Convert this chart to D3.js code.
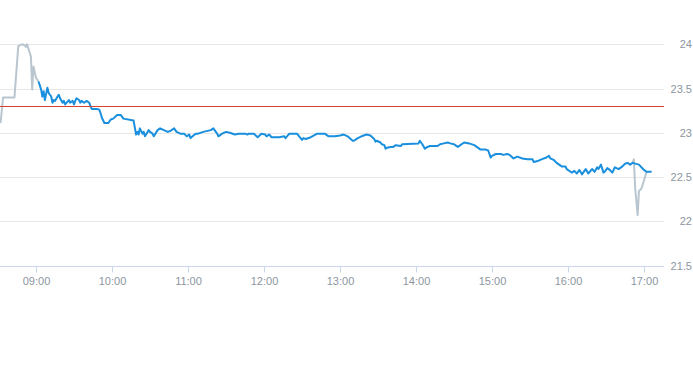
<!DOCTYPE html>
<html>
<head>
<meta charset="utf-8">
<script src="https://cdn.jsdelivr.net/npm/d3@7"></script>
<style>
  body { margin: 0; background: #fff; }
  svg text { font-family: "Liberation Sans", Arial, sans-serif; }
</style>
</head>
<body>
<div id="chart"></div>
<script>
// price before the open (grey)
const preMarket = [
  ["08:32", 23.11], ["08:34", 23.40], ["08:43", 23.40], ["08:46", 23.98],
  ["08:49", 24.00], ["08:51", 23.99], ["08:52", 23.97], ["08:53", 24.00],
  ["08:56", 23.86], ["08:57", 23.49], ["08:58", 23.75], ["09:00", 23.62],
  ["09:02", 23.58]
]

// regular session (blue)
const session = [
  ["09:02", 23.58], ["09:04", 23.49], ["09:05", 23.41], ["09:06", 23.47], ["09:07", 23.37],
  ["09:09", 23.51], ["09:10", 23.45], ["09:12", 23.41], ["09:13", 23.34], ["09:14", 23.37],
  ["09:15", 23.36], ["09:17", 23.41], ["09:18", 23.43], ["09:19", 23.39], ["09:21", 23.34],
  ["09:22", 23.36], ["09:23", 23.32], ["09:26", 23.37], ["09:27", 23.34], ["09:29", 23.36],
  ["09:30", 23.32], ["09:31", 23.36], ["09:32", 23.39], ["09:34", 23.37], ["09:35", 23.34],
  ["09:36", 23.36], ["09:38", 23.34], ["09:40", 23.36], ["09:42", 23.34], ["09:43", 23.30],
  ["09:44", 23.27], ["09:48", 23.27], ["09:50", 23.26], ["09:51", 23.22], ["09:52", 23.17],
  ["09:54", 23.11], ["09:56", 23.11], ["09:57", 23.11], ["09:59", 23.15], ["10:01", 23.16],
  ["10:04", 23.20], ["10:07", 23.20], ["10:09", 23.16], ["10:17", 23.14], ["10:19", 22.98],
  ["10:20", 23.01], ["10:21", 22.98], ["10:22", 23.05], ["10:24", 22.99], ["10:25", 23.01],
  ["10:26", 22.96], ["10:29", 23.03], ["10:30", 23.01], ["10:32", 22.99], ["10:33", 22.96],
  ["10:36", 23.03], ["10:38", 23.05], ["10:41", 23.03], ["10:44", 23.01], ["10:46", 23.02],
  ["10:49", 23.05], ["10:51", 23.01], ["10:54", 22.99], ["10:57", 22.99], ["10:59", 22.96],
  ["11:01", 22.98], ["11:02", 22.94], ["11:06", 22.99], ["11:08", 22.99], ["11:12", 23.01],
  ["11:18", 23.03], ["11:20", 23.05], ["11:23", 22.99], ["11:24", 22.96], ["11:27", 22.99],
  ["11:30", 23.01], ["11:33", 23.00], ["11:37", 22.98], ["11:40", 22.99], ["11:45", 22.99],
  ["11:47", 22.98], ["11:48", 22.99], ["11:52", 22.99], ["11:55", 22.95], ["11:58", 22.99],
  ["12:01", 22.98], ["12:02", 22.96], ["12:04", 22.98], ["12:06", 22.95], ["12:12", 22.95],
  ["12:16", 22.96], ["12:17", 22.94], ["12:20", 22.99], ["12:25", 22.99], ["12:26", 22.99],
  ["12:30", 22.92], ["12:31", 22.94], ["12:33", 22.93], ["12:37", 22.95], ["12:42", 22.99],
  ["12:48", 22.99], ["12:51", 22.96], ["12:56", 22.96], ["13:00", 22.97], ["13:03", 22.98],
  ["13:06", 22.96], ["13:10", 22.91], ["13:11", 22.91], ["13:14", 22.94], ["13:17", 22.96],
  ["13:21", 22.98], ["13:24", 22.97], ["13:27", 22.93], ["13:28", 22.90], ["13:29", 22.91],
  ["13:32", 22.89], ["13:33", 22.87], ["13:35", 22.86], ["13:36", 22.82], ["13:37", 22.83],
  ["13:40", 22.84], ["13:42", 22.84], ["13:44", 22.86], ["13:48", 22.85], ["13:49", 22.87],
  ["14:02", 22.88], ["14:03", 22.91], ["14:05", 22.87], ["14:07", 22.82], ["14:09", 22.84],
  ["14:11", 22.85], ["14:17", 22.85], ["14:19", 22.87], ["14:22", 22.88], ["14:25", 22.89],
  ["14:27", 22.88], ["14:30", 22.87], ["14:31", 22.86], ["14:33", 22.84], ["14:35", 22.86],
  ["14:38", 22.89], ["14:42", 22.88], ["14:46", 22.86], ["14:48", 22.84], ["14:51", 22.81],
  ["14:55", 22.81], ["14:57", 22.80], ["14:59", 22.72], ["15:00", 22.74], ["15:03", 22.76],
  ["15:07", 22.76], ["15:09", 22.75], ["15:12", 22.76], ["15:14", 22.75], ["15:17", 22.71],
  ["15:20", 22.73], ["15:24", 22.71], ["15:28", 22.70], ["15:32", 22.70], ["15:33", 22.67],
  ["15:36", 22.68], ["15:39", 22.70], ["15:43", 22.72], ["15:45", 22.74], ["15:46", 22.71],
  ["15:49", 22.69], ["15:51", 22.66], ["15:55", 22.62], ["15:58", 22.62], ["15:59", 22.59],
  ["16:02", 22.56], ["16:03", 22.55], ["16:05", 22.57], ["16:07", 22.54], ["16:09", 22.58],
  ["16:11", 22.53], ["16:14", 22.59], ["16:16", 22.54], ["16:19", 22.59], ["16:21", 22.56],
  ["16:23", 22.61], ["16:24", 22.59], ["16:26", 22.64], ["16:28", 22.55], ["16:29", 22.56],
  ["16:31", 22.60], ["16:33", 22.58], ["16:35", 22.55], ["16:37", 22.61], ["16:40", 22.59],
  ["16:43", 22.62], ["16:45", 22.65], ["16:47", 22.66], ["16:49", 22.64], ["16:51", 22.66],
  ["16:56", 22.64], ["17:00", 22.58], ["17:02", 22.56], ["17:06", 22.56]
]

// after the close (grey)
const postMarket = [
  ["16:51", 22.66], ["16:52", 22.70], ["16:53", 22.38], ["16:55", 22.07],
  ["16:56", 22.34], ["16:58", 22.37], ["17:00", 22.46], ["17:02", 22.56]
]

const previousClose = 23.30
const yTicks = [21.5, 22, 22.5, 23, 23.5, 24]

const width = 693
const height = 365
const plotRight = 664
const parse = d3.timeParse("%H:%M")

const x = d3.scaleTime()
  .domain([parse("09:00"), parse("17:00")])
  .range([36, 644])

const y = d3.scaleLinear()
  .domain([21.5, 24])
  .range([265.5, 44.3])

const svg = d3.select("#chart")
  .append("svg")
  .attr("width", width)
  .attr("height", height)

// grid
svg.append("g")
  .attr("class", "grid")
  .selectAll("line")
  .data(yTicks)
  .join("line")
  .attr("x1", 0)
  .attr("x2", plotRight)
  .attr("y1", d => Math.round(y(d)) + 0.5)
  .attr("y2", d => Math.round(y(d)) + 0.5)
  .attr("stroke", "#e6e6e6")

// x axis
const xAxis = d3.axisBottom(x)
  .ticks(d3.timeHour.every(1))
  .tickFormat(d3.timeFormat("%H:%M"))
  .tickSize(6)
  .tickPadding(5)

const gx = svg.append("g")
  .attr("class", "x-axis")
  .attr("transform", `translate(0 ${Math.round(y(21.5)) + 0.5})`)
  .call(xAxis)
gx.select(".domain").remove()
gx.selectAll("line").attr("stroke", "#ccd6eb")
gx.selectAll("text").attr("fill", "#8c96a0").attr("font-size", "11px")
gx.append("line")
  .attr("x1", 0)
  .attr("x2", plotRight)
  .attr("stroke", "#ccd6eb")

// y axis, labels on the right
const yAxis = d3.axisRight(y)
  .tickValues(yTicks)
  .tickSize(0)
  .tickFormat(d => String(d))

const gy = svg.append("g")
  .attr("class", "y-axis")
  .attr("transform", `translate(692 0)`)
  .call(yAxis)
gy.select(".domain").remove()
gy.selectAll("text")
  .attr("x", 0)
  .attr("text-anchor", "end")
  .attr("fill", "#8c96a0")
  .attr("font-size", "11px")

const line = d3.line()
  .x(d => x(parse(d[0])))
  .y(d => y(d[1]))

svg.append("path")
  .datum(preMarket)
  .attr("d", line)
  .attr("fill", "none")
  .attr("stroke", "#b9c6cf")
  .attr("stroke-width", 2)
  .attr("stroke-linejoin", "round")

svg.append("path")
  .datum(postMarket)
  .attr("d", line)
  .attr("fill", "none")
  .attr("stroke", "#b9c6cf")
  .attr("stroke-width", 2)
  .attr("stroke-linejoin", "round")

svg.append("path")
  .datum(session)
  .attr("d", line)
  .attr("fill", "none")
  .attr("stroke", "#1a8fdd")
  .attr("stroke-width", 2)
  .attr("stroke-linejoin", "round")

// previous close
svg.append("line")
  .attr("x1", 0)
  .attr("x2", plotRight)
  .attr("y1", Math.round(y(previousClose)) + 0.5)
  .attr("y2", Math.round(y(previousClose)) + 0.5)
  .attr("stroke", "#d9412f")
  .attr("stroke-width", 1)
</script>
</body>
</html>
